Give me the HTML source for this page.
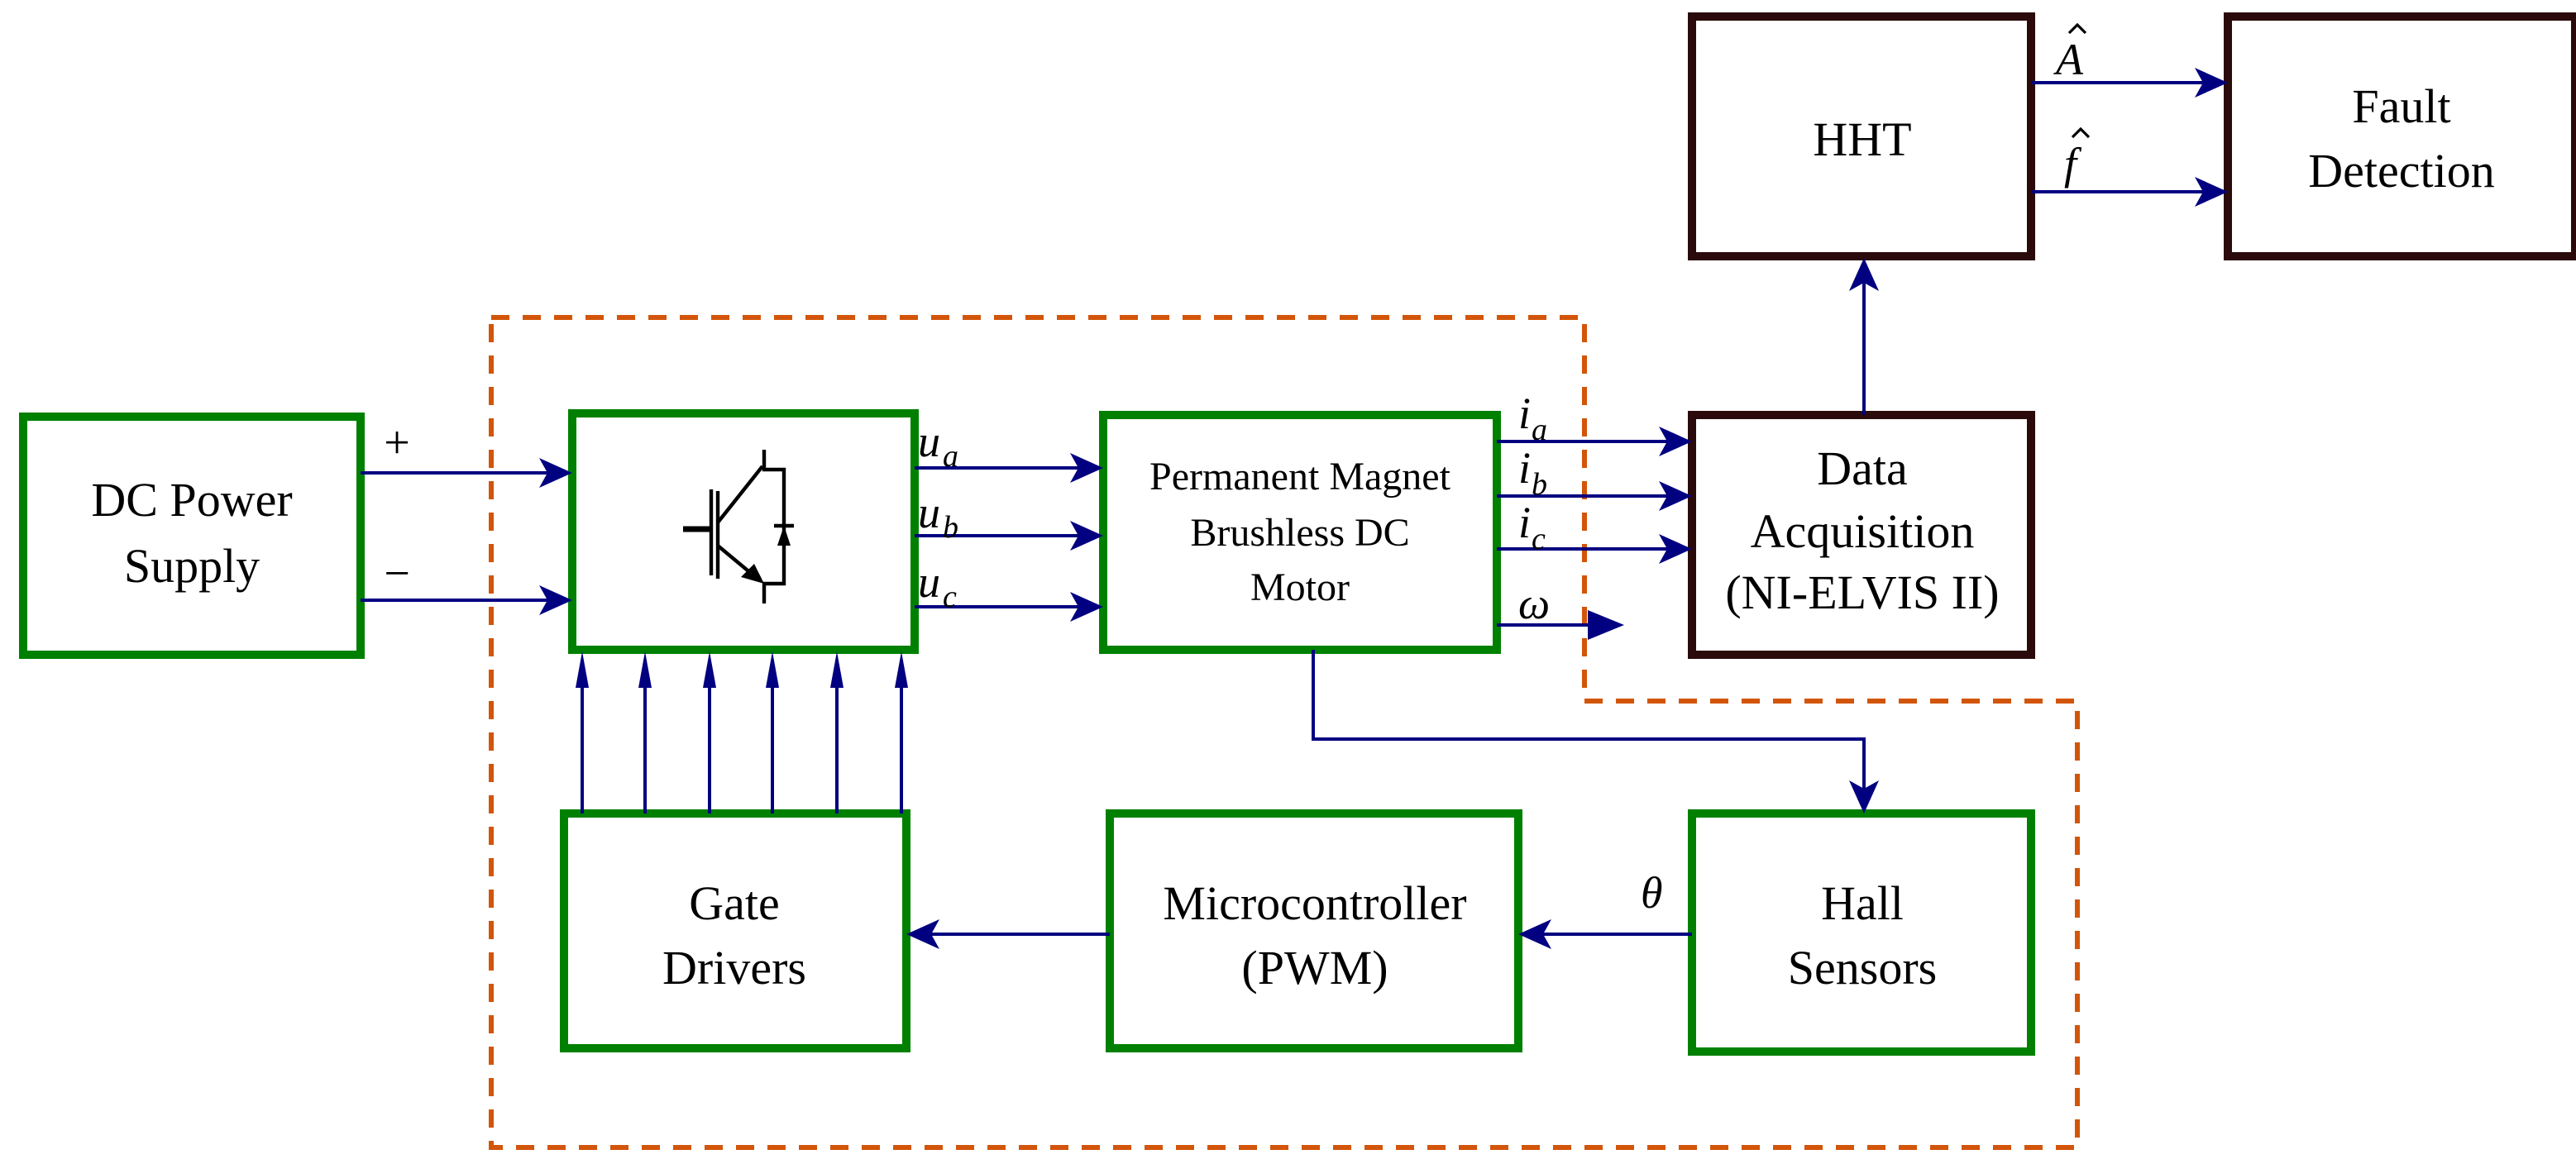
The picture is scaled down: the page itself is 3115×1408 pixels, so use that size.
<!DOCTYPE html>
<html><head><meta charset="utf-8"><style>
html,body{margin:0;padding:0;background:#fff;}
svg{display:block;}
</style></head><body>
<svg width="3115" height="1408" viewBox="0 0 1557.5 704" xmlns="http://www.w3.org/2000/svg" font-family="'Liberation Serif', 'DejaVu Serif', serif">
<path d="M297,192 H958 V424 H1256 V694 H297 Z" fill="none" stroke="#D2550A" stroke-width="3" stroke-dasharray="11,8"/>
<g fill="none" stroke-width="5">
<rect x="14" y="252" width="204" height="144" stroke="#008000"/>
<rect x="346" y="250" width="207" height="143" stroke="#008000"/>
<rect x="667" y="251" width="238" height="142" stroke="#008000"/>
<rect x="341" y="492" width="207" height="142" stroke="#008000"/>
<rect x="671" y="492" width="247" height="142" stroke="#008000"/>
<rect x="1023" y="492" width="205" height="144" stroke="#008000"/>
<rect x="1023" y="251" width="205" height="145" stroke="#2a0a0a"/>
<rect x="1023" y="10" width="205" height="145" stroke="#2a0a0a"/>
<rect x="1347" y="10" width="210" height="145" stroke="#2a0a0a"/>
</g>
<g stroke="#000080" stroke-width="2" fill="none">
<path d="M218,286 H340 M218,363 H340"/>
<path d="M553,283 H661 M553,324 H661 M553,367 H661"/>
<path d="M905,267 H1017 M905,300 H1017 M905,332 H1017 M905,378 H965"/>
<path d="M1127,251 V161"/>
<path d="M1228,50 H1341 M1228,116 H1341"/>
<path d="M794,393 V447 H1127 V486"/>
<path d="M1023,565 H924 M671,565 H554"/>
<path d="M352,492 V399 M390,492 V399 M429,492 V399 M467,492 V399 M506,492 V399 M545,492 V399"/>
</g>
<g fill="#000080">
<path d="M346,286 l-20,-9 l5,9 l-5,9 z"/>
<path d="M346,363 l-20,-9 l5,9 l-5,9 z"/>
<path d="M667,283 l-20,-9 l5,9 l-5,9 z"/>
<path d="M667,324 l-20,-9 l5,9 l-5,9 z"/>
<path d="M667,367 l-20,-9 l5,9 l-5,9 z"/>
<path d="M1023,267 l-20,-9 l5,9 l-5,9 z"/>
<path d="M1023,300 l-20,-9 l5,9 l-5,9 z"/>
<path d="M1023,332 l-20,-9 l5,9 l-5,9 z"/>
<path d="M982,378 l-22,-9 v18 z"/>
<path d="M1347,50 l-20,-9 l5,9 l-5,9 z"/>
<path d="M1347,116 l-20,-9 l5,9 l-5,9 z"/>
<path d="M1127,156 l-9,20 l9,-5 l9,5 z"/>
<path d="M1127,492 l-9,-20 l9,5 l9,-5 z"/>
<path d="M918,565 l20,-9 l-5,9 l5,9 z"/>
<path d="M548,565 l20,-9 l-5,9 l5,9 z"/>
<path d="M352,394 l-4,22 h8 z"/><path d="M390,394 l-4,22 h8 z"/><path d="M429,394 l-4,22 h8 z"/>
<path d="M467,394 l-4,22 h8 z"/><path d="M506,394 l-4,22 h8 z"/><path d="M545,394 l-4,22 h8 z"/>
</g>
<g stroke="#000" stroke-width="2.2" fill="none">
<path d="M413,320 H429" stroke-width="3.5"/>
<path d="M430,296 V348"/>
<path d="M434,297 V350"/>
<path d="M434,316 L461,282 M462,272 V284 H474 V353 H462 V365"/>
<path d="M434,330 L458,350"/>
<path d="M468,318 H480"/>
</g>
<path d="M462,353 l-14,-4 l8,-8 z" fill="#000"/>
<path d="M474,318 l-4,12 h8 z" fill="#000"/>
<g font-size="29" text-anchor="middle" fill="#000">
<text x="116" y="312">DC Power</text>
<text x="116" y="352">Supply</text>
<text x="1126" y="293">Data</text>
<text x="1126" y="331">Acquisition</text>
<text x="1126" y="368">(NI-ELVIS II)</text>
<text x="1126" y="94">HHT</text>
<text x="1452" y="74">Fault</text>
<text x="1452" y="113">Detection</text>
<text x="1126" y="556">Hall</text>
<text x="1126" y="595">Sensors</text>
<text x="795" y="556">Microcontroller</text>
<text x="795" y="595">(PWM)</text>
<text x="444" y="556">Gate</text>
<text x="444" y="595">Drivers</text>
<text x="786" y="296" font-size="24">Permanent Magnet</text>
<text x="786" y="330" font-size="24">Brushless DC</text>
<text x="786" y="363" font-size="24">Motor</text>
<text x="240" y="277" font-size="28">+</text>
<text x="240" y="356" font-size="28">−</text>
</g>
<g font-style="italic" fill="#000" font-size="27">
<text x="555" y="276">u</text><text x="570" y="282" font-size="19">a</text>
<text x="555" y="319">u</text><text x="570" y="325" font-size="19">b</text>
<text x="555" y="361">u</text><text x="570" y="367" font-size="19">c</text>
<text x="918" y="259">i</text><text x="926" y="266" font-size="19">a</text>
<text x="918" y="292">i</text><text x="926" y="299" font-size="19">b</text>
<text x="918" y="325">i</text><text x="926" y="332" font-size="19">c</text>
<text x="918" y="374">ω</text>
<text x="1243" y="45">A</text>
<text x="1248" y="108">f</text>
<text x="992" y="549">θ</text>
</g>
<g stroke="#000" stroke-width="1.6" fill="none">
<path d="M1251,20 l5,-5 l5,5"/>
<path d="M1253,83 l5,-5 l5,5"/>
</g>
</svg>
</body></html>
